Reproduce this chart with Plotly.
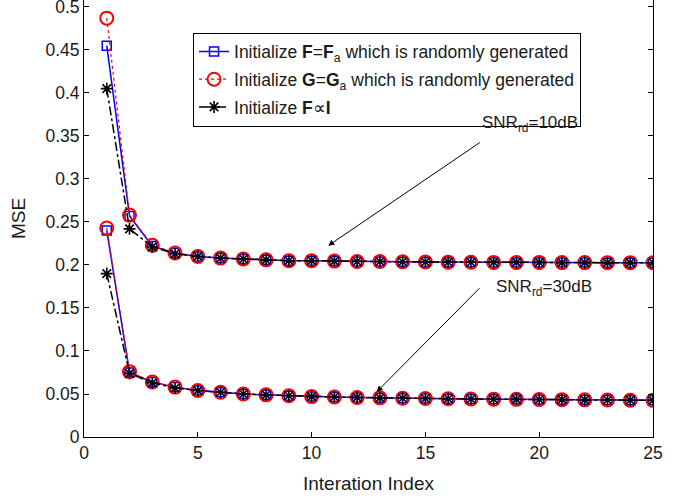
import plotly.graph_objects as go

iters = list(range(1, 26))

# SNR_rd = 10 dB
up_F = [0.455, 0.257, 0.222, 0.214, 0.210, 0.208, 0.207, 0.206, 0.205, 0.205, 0.2045, 0.204, 0.204,
        0.2037, 0.2035, 0.2033, 0.2032, 0.203, 0.203, 0.203, 0.2028, 0.2028, 0.2027, 0.2027, 0.2026]
up_G = [0.487, 0.258, 0.223, 0.214, 0.210, 0.208, 0.207, 0.206, 0.205, 0.205, 0.2045, 0.204, 0.204,
        0.2037, 0.2035, 0.2033, 0.2032, 0.203, 0.203, 0.203, 0.2028, 0.2028, 0.2027, 0.2027, 0.2026]
up_I = [0.405, 0.242, 0.221, 0.213, 0.210, 0.208, 0.207, 0.206, 0.205, 0.205, 0.2045, 0.204, 0.204,
        0.2037, 0.2035, 0.2033, 0.2032, 0.203, 0.203, 0.203, 0.2028, 0.2028, 0.2027, 0.2027, 0.2026]

# SNR_rd = 30 dB
lo_F = [0.240, 0.075, 0.064, 0.058, 0.054, 0.052, 0.050, 0.049, 0.048, 0.047, 0.0465, 0.046, 0.0455,
        0.045, 0.0448, 0.0445, 0.0442, 0.044, 0.0438, 0.0436, 0.0434, 0.0432, 0.043, 0.0428, 0.0426]
lo_G = [0.243, 0.076, 0.064, 0.058, 0.054, 0.052, 0.050, 0.049, 0.048, 0.047, 0.0465, 0.046, 0.0455,
        0.045, 0.0448, 0.0445, 0.0442, 0.044, 0.0438, 0.0436, 0.0434, 0.0432, 0.043, 0.0428, 0.0426]
lo_I = [0.190, 0.074, 0.063, 0.057, 0.054, 0.052, 0.050, 0.049, 0.048, 0.047, 0.0465, 0.046, 0.0455,
        0.045, 0.0448, 0.0445, 0.0442, 0.044, 0.0438, 0.0436, 0.0434, 0.0432, 0.043, 0.0428, 0.0426]

x_ticks = [0, 5, 10, 15, 20, 25]
y_ticks = [0, 0.05, 0.1, 0.15, 0.2, 0.25, 0.3, 0.35, 0.4, 0.45, 0.5]
y_tick_labels = ["0", "0.05", "0.1", "0.15", "0.2", "0.25", "0.3", "0.35", "0.4", "0.45", "0.5"]

names = [
    "Initialize <b>F</b>=<b>F</b><sub>a</sub> which is randomly generated",
    "Initialize <b>G</b>=<b>G</b><sub>a</sub> which is randomly generated",
    "Initialize <b>F</b>\u221d<b>I</b>",
]

FONT = "Liberation Sans, Arial, sans-serif"
TXT = "#1a1a1a"

styles = [
    dict(line=dict(color="#0000ff", width=1.5, dash="solid"),
         marker=dict(symbol="square-open", size=9, color="#0000ff", line=dict(width=1.5))),
    dict(line=dict(color="#ff0000", width=1.2, dash="dot"),
         marker=dict(symbol="circle-open", size=13, color="#ff0000", line=dict(width=2))),
    dict(line=dict(color="#000000", width=1.5, dash="dashdot"),
         marker=dict(symbol="asterisk-open", size=10, color="#000000", line=dict(width=1.6))),
]

fig = go.Figure()
for i, (up, lo) in enumerate([(up_F, lo_F), (up_G, lo_G), (up_I, lo_I)]):
    fig.add_trace(go.Scatter(x=iters, y=up, mode="lines+markers", name=names[i],
                             legendgroup=str(i), showlegend=True, **styles[i]))
    fig.add_trace(go.Scatter(x=iters, y=lo, mode="lines+markers", name=names[i],
                             legendgroup=str(i), showlegend=False, **styles[i]))

fig.add_annotation(x=19.6, y=0.364, text="SNR<sub>rd</sub>=10dB", showarrow=False,
                   font=dict(family=FONT, size=17, color=TXT))
fig.add_annotation(x=20.2, y=0.173, text="SNR<sub>rd</sub>=30dB", showarrow=False,
                   font=dict(family=FONT, size=17, color=TXT))
fig.add_annotation(x=10.73, y=0.2224, ax=17.46, ay=0.3436, axref="x", ayref="y",
                   xref="x", yref="y", text="", showarrow=True, arrowhead=2,
                   arrowsize=1.2, arrowwidth=1, arrowcolor="black")
fig.add_annotation(x=12.86, y=0.0525, ax=17.44, ay=0.1747, axref="x", ayref="y",
                   xref="x", yref="y", text="", showarrow=True, arrowhead=2,
                   arrowsize=1.2, arrowwidth=1, arrowcolor="black")

axis_common = dict(showline=True, linecolor="black", linewidth=1,
                   ticks="inside", ticklen=5, tickcolor="black", showgrid=False,
                   zeroline=False, automargin=False, ticklabeloverflow="allow",
                   tickfont=dict(family=FONT, size=17.5, color=TXT))

fig.update_xaxes(range=[0, 25], tickmode="array", tickvals=x_ticks, mirror=False,
                 title=dict(text="Interation Index",
                            font=dict(family=FONT, size=19, color=TXT), standoff=14),
                 **axis_common)
fig.update_yaxes(range=[0, 0.5081], tickmode="array", tickvals=y_ticks, ticktext=y_tick_labels,
                 mirror="ticks",
                 title=dict(text="MSE", font=dict(family=FONT, size=19, color=TXT), standoff=14),
                 **axis_common)

fig.update_layout(
    width=692, height=499,
    margin=dict(l=84, r=39, t=0, b=62),
    paper_bgcolor="white", plot_bgcolor="white",
    font=dict(family=FONT, size=16, color=TXT),
    legend=dict(x=0.1916, y=0.9255, xanchor="left", yanchor="top",
                bgcolor="white", bordercolor="black", borderwidth=1,
                font=dict(family=FONT, size=17.5, color=TXT),
                tracegroupgap=2, itemwidth=30),
    showlegend=True,
)

fig.write_html("out.html", config={"displayModeBar": False},
               post_script="document.body.style.margin='0';")
